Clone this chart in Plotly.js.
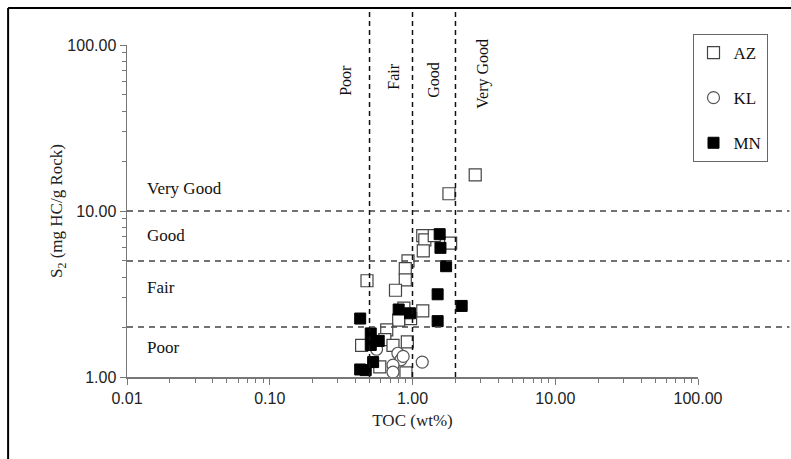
<!DOCTYPE html>
<html>
<head>
<meta charset="utf-8">
<script src="https://cdn.plot.ly/plotly-3.0.1.min.js"></script>
<style>
  html, body { margin: 0; padding: 0; background: #fff; }
  #chart { width: 791px; height: 459px; }
</style>
</head>
<body>
<div id="chart"></div>
<script>
// ---- Data ----
const azTOC = [2.75, 1.80, 1.18, 1.22, 1.42, 1.85, 1.19, 0.93, 0.89, 0.48, 0.89, 0.76, 0.87, 1.18, 0.97, 0.80, 0.66, 0.64, 0.92, 0.44, 0.73, 0.59, 0.90];
const azS2  = [16.5, 12.7, 7.1, 6.7, 7.1, 6.4, 5.75, 5.0, 4.5, 3.8, 3.85, 3.33, 2.6, 2.5, 2.25, 2.2, 1.92, 1.68, 1.63, 1.55, 1.55, 1.15, 1.06];

const klTOC = [0.56, 0.79, 0.83, 1.17, 0.73, 0.73, 0.86];
const klS2  = [1.47, 1.39, 1.27, 1.23, 1.18, 1.07, 1.33];

const mnTOC = [1.55, 1.57, 1.72, 1.50, 2.21, 0.80, 0.96, 0.43, 1.50, 0.51, 0.58, 0.51, 0.53, 0.43, 0.47];
const mnS2  = [7.25, 6.0, 4.65, 3.15, 2.68, 2.55, 2.42, 2.25, 2.17, 1.83, 1.65, 1.56, 1.23, 1.11, 1.10];

const xTickVals = [0.01, 0.1, 1, 10, 100];
const xTickText = ["0.01", "0.10", "1.00", "10.00", "100.00"];
const yTickVals = [1, 10, 100];
const yTickText = ["1.00", "10.00", "100.00"];

const tocLimits = [0.5, 1, 2];        // Poor | Fair | Good | Very Good
const tocLabels = ["Poor", "Fair", "Good", "Very Good"];
const s2Limits  = [2, 5, 10];
const s2Labels  = ["Poor", "Fair", "Good", "Very Good"];

// minor ticks 2..9 in each decade
function minorTicks(lo, hi) {
  const out = [];
  for (let d = lo; d < hi; d *= 10) for (let m = 2; m <= 9; m++) out.push(+(d * m).toPrecision(3));
  return out;
}

const serif = "Liberation Serif, Times New Roman, serif";
const sans = "Liberation Sans, Arial, sans-serif";

const traces = [
  { x: azTOC, y: azS2, name: "AZ", type: "scatter", mode: "markers",
    marker: { symbol: "square", size: 12, color: "#ffffff", line: { color: "#444", width: 1.2 } },
    legendgroup: "a" },
  { x: klTOC, y: klS2, name: "KL", type: "scatter", mode: "markers",
    marker: { symbol: "circle", size: 12, color: "#ffffff", line: { color: "#555", width: 1.2 } },
    legendgroup: "b" },
  { x: mnTOC, y: mnS2, name: "MN", type: "scatter", mode: "markers",
    marker: { symbol: "square", size: 11, color: "#000000", line: { color: "#000", width: 1 } },
    legendgroup: "c" }
];

const L = 127, R = 698.5, T = 45, B = 377, W = 791, H = 459;
const pw = R - L, ph = B - T;
const px = v => (v - L) / pw;   // pixel -> paper x
const py = v => (B - v) / ph;   // pixel -> paper y

const shapes = [];
// frame (left and top borders of the figure)
shapes.push({ type: "line", xref: "paper", yref: "paper", x0: px(8), x1: px(8), y0: py(8), y1: py(470), line: { color: "#000", width: 2 } });
shapes.push({ type: "line", xref: "paper", yref: "paper", x0: px(8), x1: px(800), y0: py(8), y1: py(8), line: { color: "#000", width: 2 } });
// horizontal S2 limits
s2Limits.forEach(v => shapes.push({ type: "line", xref: "paper", yref: "y", x0: 0, x1: px(790), y0: v, y1: v, line: { color: "#444", width: 1.5, dash: "6px,5px" } }));
// vertical TOC limits
tocLimits.forEach(v => shapes.push({ type: "line", xref: "x", yref: "paper", x0: v, x1: v, y0: 0, y1: py(8), line: { color: "#111", width: 1.5, dash: "5px,4px" } }));

const annotations = [];
const hLabelY = [347, 287, 235, 188];
s2Labels.forEach((t, i) => annotations.push({ text: t, xref: "paper", yref: "paper", x: px(145), y: py(hLabelY[i]), xanchor: "left", yanchor: "middle", showarrow: false, font: { family: serif, size: 17, color: "#111" } }));
const vLabelX = [345, 393, 433, 483];
const vLabelY = [80, 77, 80, 74];
tocLabels.forEach((t, i) => annotations.push({ text: t, xref: "paper", yref: "paper", x: px(vLabelX[i]), y: py(vLabelY[i]), xanchor: "center", yanchor: "middle", textangle: -90, showarrow: false, font: { family: serif, size: 16, color: "#111" } }));

const layout = {
  width: W, height: H,
  margin: { l: L, r: W - R, t: T, b: H - B },
  paper_bgcolor: "#fff", plot_bgcolor: "#fff",
  showlegend: true,
  legend: {
    x: px(693), y: py(34), xanchor: "left", yanchor: "top",
    bgcolor: "#fff", bordercolor: "#666", borderwidth: 1,
    font: { family: serif, size: 17, color: "#111" },
    traceorder: "grouped", tracegroupgap: 20, itemwidth: 30
  },
  xaxis: {
    type: "log", range: [-2, 2], showgrid: false, zeroline: false,
    showline: true, linecolor: "#777", linewidth: 1.5,
    tickmode: "array", tickvals: xTickVals, ticktext: xTickText,
    ticks: "outside", ticklen: 6, tickcolor: "#777",
    minor: { tickmode: "array", tickvals: minorTicks(0.01, 100), ticks: "outside", ticklen: 4, tickcolor: "#777", showgrid: false },
    tickfont: { family: sans, size: 16, color: "#222" },
    title: { text: "TOC (wt%)", font: { family: serif, size: 17, color: "#222" }, standoff: 8 }
  },
  yaxis: {
    type: "log", range: [0, 2], showgrid: false, zeroline: false,
    showline: true, linecolor: "#777", linewidth: 1.5,
    tickmode: "array", tickvals: yTickVals, ticktext: yTickText,
    ticks: "outside", ticklen: 6, tickcolor: "#777",
    minor: { tickmode: "array", tickvals: minorTicks(1, 100), ticks: "outside", ticklen: 4, tickcolor: "#777", showgrid: false },
    tickfont: { family: sans, size: 16, color: "#222" },
    title: { text: "S<sub>2</sub> (mg HC/g Rock)", font: { family: serif, size: 17, color: "#222" }, standoff: 0 }
  },
  shapes: shapes,
  annotations: annotations
};

Plotly.newPlot("chart", traces, layout, { displayModeBar: false, staticPlot: true });
</script>
</body>
</html>
